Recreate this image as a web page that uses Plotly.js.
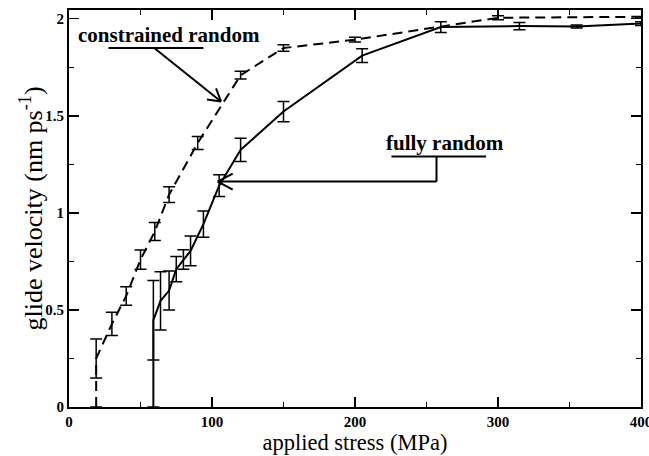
<!DOCTYPE html>
<html>
<head>
<meta charset="utf-8">
<script src="https://cdn.plot.ly/plotly-3.0.1.min.js"></script>
<style>html,body{margin:0;padding:0;background:#fff;}#chart{width:649px;height:456px;}</style>
</head>
<body>
<div id="chart"></div>
<script>
// constrained random (dashed)
const conStress = [19, 19, 30, 40, 50, 60, 70, 90, 120, 150, 200, 300, 400];
const conVel    = [0, 0.25, 0.428, 0.572, 0.759, 0.904, 1.094, 1.36, 1.709, 1.849, 1.892, 2.005, 2.01];
const conErr    = [0, 0.10, 0.06, 0.048, 0.05, 0.046, 0.04, 0.033, 0.02, 0.017, 0.012, 0.01, 0];

// fully random (solid)
const fullStress = [59, 59, 64, 70, 75, 80, 85, 94, 105, 120, 150, 205, 260, 315, 355, 400];
const fullVel    = [0, 0.447, 0.547, 0.60, 0.71, 0.76, 0.804, 0.942, 1.14, 1.325, 1.522, 1.81, 1.957, 1.962, 1.96, 1.975];
const fullErr    = [0, 0.205, 0.15, 0.10, 0.065, 0.05, 0.077, 0.068, 0.056, 0.06, 0.052, 0.035, 0.028, 0.019, 0.008, 0.01];

const xTickVals = [0, 100, 200, 300, 400];
const yTickVals = [0, 0.5, 1, 1.5, 2];
const yTickText = ['0', '0.5', '1', '1.5', '2'];

const labelCon = 'constrained random';
const labelFull = 'fully random';
const xTitle = 'applied stress (MPa)';
const yTitle = 'glide velocity (nm ps<sup>-1</sup>)';

const serif = 'Liberation Serif, DejaVu Serif, serif';

const traces = [
  {
    x: conStress, y: conVel, type: 'scatter', mode: 'lines',
    line: {color: '#000', width: 2, dash: '10px,6px'},
    error_y: {type: 'data', array: conErr, visible: true, color: '#000', thickness: 1.5, width: 6},
    hoverinfo: 'skip'
  },
  {
    x: fullStress, y: fullVel, type: 'scatter', mode: 'lines',
    line: {color: '#000', width: 2},
    error_y: {type: 'data', array: fullErr, visible: true, color: '#000', thickness: 1.5, width: 6},
    hoverinfo: 'skip'
  }
];

// annotation geometry (data coords)
const conText = {x: 70, y: 1.915};
const conUnder = {x0: 27.6, x1: 94, y: 1.849};
const conTail = {x: 59.6, y: 1.849};
const conTip = {x: 106.3, y: 1.574};

const fullText = {x: 263, y: 1.36};
const fullUnder = {x0: 225.5, x1: 291.6, y: 1.29};
const fullTurn = {x: 257, y: 1.161};
const fullTip = {x: 104, y: 1.161};

const annos = [
  {x: conText.x, y: conText.y, text: labelCon, showarrow: false, xref: 'x', yref: 'y',
   font: {family: serif, size: 21, color: '#000', weight: 'bold'}},
  {x: fullText.x, y: fullText.y, text: labelFull, showarrow: false, xref: 'x', yref: 'y',
   font: {family: serif, size: 21, color: '#000', weight: 'bold'}},
  {x: 0, y: 0.5, xref: 'paper', yref: 'paper', xanchor: 'center', yanchor: 'middle',
   xshift: -37, textangle: -90, text: yTitle, showarrow: false,
   font: {family: serif, size: 26, color: '#000'}}
];

const ln = {color: '#000', width: 2};
function dataLine(x0, y0, x1, y1) {
  return {type: 'line', xref: 'x', yref: 'y', x0: x0, x1: x1, y0: y0, y1: y1, line: ln};
}
function headLine(tip, dx, dy) {
  return {type: 'line', xref: 'x', yref: 'y', xsizemode: 'pixel', ysizemode: 'pixel',
          xanchor: tip.x, yanchor: tip.y, x0: 0, y0: 0, x1: dx, y1: dy, line: ln};
}

const shapes = [
  dataLine(conUnder.x0, conUnder.y, conUnder.x1, conUnder.y),
  dataLine(conTail.x, conTail.y, conTip.x, conTip.y),
  headLine(conTip, -14, 2),
  headLine(conTip, -5, 13),
  dataLine(fullUnder.x0, fullUnder.y, fullUnder.x1, fullUnder.y),
  dataLine(fullTurn.x, fullUnder.y, fullTurn.x, fullTurn.y),
  dataLine(fullTurn.x, fullTurn.y, fullTip.x, fullTip.y),
  headLine(fullTip, 15, 8),
  headLine(fullTip, 15, -8)
];

const layout = {
  width: 649, height: 456,
  margin: {l: 69, r: 8, t: 10, b: 49},
  paper_bgcolor: '#fff', plot_bgcolor: '#fff',
  showlegend: false,
  font: {family: serif, color: '#000'},
  xaxis: {
    range: [0, 400], tickvals: xTickVals, ticktext: xTickVals.map(String),
    ticks: 'inside', ticklen: 10, tickwidth: 1.5, tickcolor: '#000',
    showline: true, linewidth: 2, linecolor: '#000', mirror: 'ticks',
    showgrid: false, zeroline: false, ticklabeloverflow: 'allow',
    minor: {ticks: 'inside', ticklen: 5, tickwidth: 1.5, tickcolor: '#000', dtick: 50, showgrid: false},
    tickfont: {family: serif, size: 15, color: '#000', weight: 'bold'},
    title: {text: xTitle, font: {family: serif, size: 22.5, color: '#000'}, standoff: 3}
  },
  yaxis: {
    range: [0, 2.045], tickvals: yTickVals, ticktext: yTickText,
    ticks: 'inside', ticklen: 10, tickwidth: 1.5, tickcolor: '#000',
    showline: true, linewidth: 2, linecolor: '#000', mirror: 'ticks',
    showgrid: false, zeroline: false,
    minor: {ticks: 'inside', ticklen: 5, tickwidth: 1.5, tickcolor: '#000', dtick: 0.25, showgrid: false},
    tickfont: {family: serif, size: 15, color: '#000', weight: 'bold'}
  },
  annotations: annos,
  shapes: shapes
};

Plotly.newPlot('chart', traces, layout, {staticPlot: true, displayModeBar: false});
</script>
</body>
</html>
